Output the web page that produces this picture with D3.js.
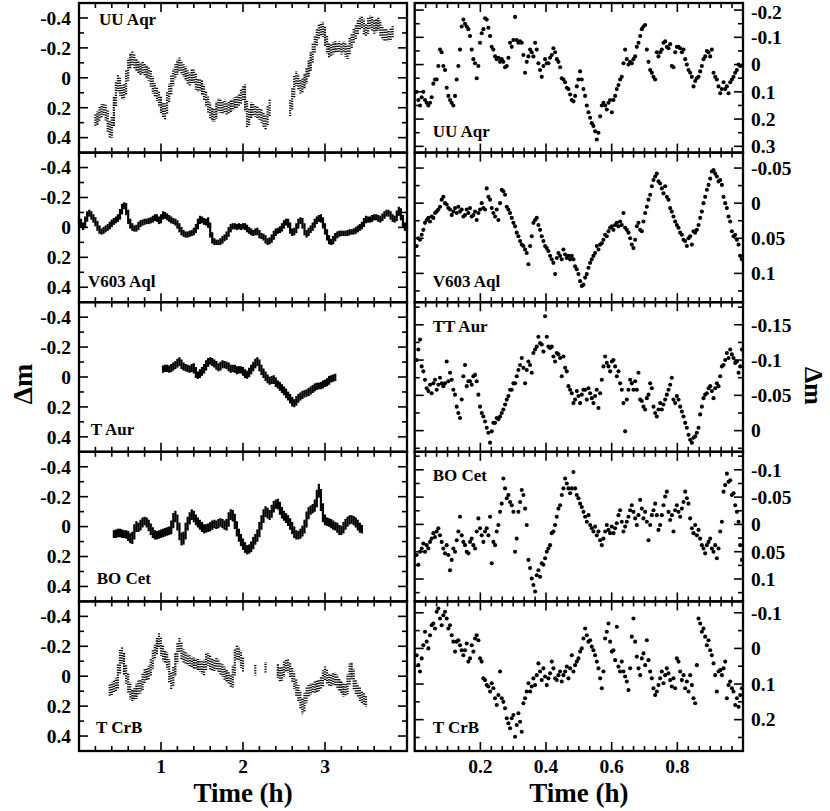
<!DOCTYPE html>
<html>
<head>
<meta charset="utf-8">
<script src="https://cdn.jsdelivr.net/npm/d3@7"></script>
<style>
body { margin: 0; background: #fff; }
svg text { font-family: "Liberation Serif", Tinos, "DejaVu Serif", serif; font-weight: bold; fill: #000; }
</style>
</head>
<body>
<div class="chart"></div>
<script>
// ---- long runs (left column), Δm sampled every 0.025 h, null = no data
const longDt = 0.025
const starNames = ['UU Aqr', 'V603 Aql', 'T Aur', 'BO Cet', 'T CrB']
const shortNames = ['UU Aqr', 'V603 Aql', 'TT Aur', 'BO Cet', 'T CrB']
const longStart = [0.2, 0, 1.025, 0.425, 0.375]
const longSpread = [0.035, 0.018, 0.022, 0.026, 0.035]

const uuAqrLong = [0.29,0.27,0.25,0.21,0.21,0.22,0.28,0.37,0.36,0.22,
  0.10,0.01,0.06,0.11,0.11,0.04,-0.07,-0.12,-0.14,-0.10,
  -0.09,-0.07,-0.05,-0.07,-0.06,-0.04,-0.03,0.00,0.05,0.09,
  0.10,0.14,0.18,0.22,0.25,0.16,0.10,0.05,-0.01,-0.04,
  -0.07,-0.10,-0.06,-0.05,-0.03,0.00,0.02,-0.02,-0.02,0.03,
  0.06,0.04,0.06,0.10,0.14,0.18,0.22,0.25,0.26,0.22,
  0.17,0.19,0.21,0.18,0.21,0.20,0.19,0.18,0.17,0.16,
  0.15,0.13,0.10,0.08,0.30,0.27,0.20,0.21,0.22,0.23,
  0.24,0.25,0.28,0.31,0.26,0.18,
  null,null,null,null,null,null,null,null,null,
  0.22,0.15,0.05,-0.01,0.03,0.07,0.06,0.02,-0.01,-0.06,
  -0.10,-0.17,-0.23,-0.27,-0.31,-0.33,-0.34,-0.28,-0.22,-0.17,
  -0.18,-0.20,-0.21,-0.20,-0.21,-0.19,-0.21,-0.19,-0.16,-0.22,
  -0.25,-0.28,-0.31,-0.34,-0.37,-0.38,-0.34,-0.31,-0.35,-0.38,
  -0.37,-0.33,-0.35,-0.37,-0.33,-0.30,-0.28,-0.29,-0.28,-0.29,-0.31]

const v603AqlLong = [-0.05,-0.03,0.00,-0.03,-0.08,-0.10,-0.08,-0.06,-0.04,-0.01,
  0.02,0.03,0.02,0.01,0.00,-0.01,-0.03,-0.04,-0.05,-0.06,
  -0.08,-0.13,-0.15,-0.14,-0.06,-0.02,0.00,0.01,0.01,-0.01,
  -0.03,-0.03,-0.04,-0.04,-0.04,-0.05,-0.05,-0.07,-0.07,-0.04,
  -0.05,-0.09,-0.08,-0.07,-0.06,-0.05,-0.04,-0.04,-0.02,0.00,
  0.03,0.04,0.05,0.05,0.04,0.04,0.03,0.01,-0.02,-0.06,
  -0.05,-0.04,-0.03,-0.05,0.02,0.08,0.10,0.10,0.10,0.10,
  0.08,0.07,0.06,0.03,0.00,-0.01,-0.01,0.00,-0.01,0.00,
  -0.01,-0.01,0.01,0.02,0.03,0.04,0.03,0.02,0.05,0.06,
  0.06,0.08,0.10,0.09,0.08,0.05,0.03,0.02,0.02,0.00,
  -0.02,-0.04,-0.04,0.01,0.04,0.03,0.01,-0.03,-0.05,-0.04,
  0.02,0.05,0.03,0.01,0.00,-0.03,-0.05,-0.06,-0.07,-0.03,
  0.01,0.05,0.09,0.10,0.09,0.06,0.05,0.04,0.04,0.04,
  0.04,0.04,0.03,0.03,0.03,0.02,0.01,0.00,-0.01,-0.03,
  -0.06,-0.05,-0.05,-0.06,-0.07,-0.07,-0.06,-0.05,-0.07,-0.08,
  -0.10,-0.10,-0.08,-0.06,-0.05,-0.07,-0.12,-0.10,-0.03,0.00,
  0.01]

const tAurLong = [-0.05,-0.06,-0.06,-0.05,-0.06,-0.07,-0.08,-0.09,-0.11,-0.08,
  -0.07,-0.06,-0.06,-0.05,-0.06,-0.07,-0.02,-0.01,-0.02,-0.04,
  -0.05,-0.08,-0.10,-0.11,-0.10,-0.09,-0.08,-0.06,-0.07,-0.09,
  -0.08,-0.08,-0.07,-0.05,-0.06,-0.06,-0.04,-0.05,-0.05,-0.04,
  -0.02,-0.01,-0.03,-0.05,-0.07,-0.09,-0.11,-0.08,-0.04,-0.03,
  0.00,0.01,0.03,0.02,0.01,0.04,0.05,0.06,0.08,0.09,
  0.11,0.13,0.14,0.17,0.18,0.16,0.14,0.13,0.12,0.11,
  0.11,0.10,0.09,0.08,0.07,0.06,0.06,0.06,0.05,0.04,
  0.04,0.02,0.01,0.01,0.00]

const boCetLong = [0.05,0.05,0.04,0.04,0.05,0.05,0.05,0.06,0.08,0.09,
  0.03,-0.01,0.01,-0.01,-0.03,-0.04,-0.03,-0.01,0.02,0.04,
  0.06,0.06,0.05,0.05,0.04,0.04,0.03,0.03,0.02,-0.05,
  -0.08,-0.03,0.03,0.10,0.09,0.03,-0.03,-0.05,-0.09,-0.07,
  -0.04,-0.03,-0.01,0.00,0.02,0.01,0.01,0.00,-0.01,-0.02,
  -0.01,-0.02,-0.03,-0.02,-0.01,0.00,-0.05,-0.09,-0.08,-0.04,
  0.02,0.06,0.09,0.12,0.14,0.16,0.15,0.14,0.11,0.08,
  0.07,0.02,-0.03,-0.07,-0.11,-0.09,-0.07,-0.10,-0.14,-0.15,
  -0.16,-0.12,-0.09,-0.07,-0.06,-0.04,-0.02,0.01,0.04,0.06,
  0.06,0.05,0.03,0.01,-0.05,-0.10,-0.11,-0.12,-0.13,-0.18,
  -0.26,-0.19,-0.07,-0.04,-0.03,-0.03,-0.02,-0.01,0.00,0.00,
  0.03,0.03,0.01,-0.02,-0.03,-0.05,-0.05,-0.04,-0.03,-0.01,
  0.01,0.02]

const tCrBLong = [0.10,0.08,0.07,0.06,0.03,-0.12,-0.16,-0.08,-0.01,0.04,
  0.11,0.13,0.12,0.11,0.06,0.08,0.04,-0.02,-0.01,-0.02,
  -0.05,-0.12,-0.17,-0.18,-0.26,-0.20,-0.14,-0.13,-0.12,-0.04,
  0.05,0.01,-0.08,-0.16,-0.22,-0.16,-0.13,-0.12,-0.11,-0.10,
  -0.09,-0.09,-0.08,-0.08,-0.07,-0.06,-0.04,-0.11,-0.12,-0.09,
  -0.07,-0.07,-0.09,-0.07,-0.05,-0.04,-0.02,0.00,0.01,0.03,
  0.04,-0.12,-0.17,-0.15,-0.12,-0.06,
  null,null,null,null,null,-0.04,null,null,null,null,-0.06,
  null,null,null,null,null,
  -0.05,0.00,-0.01,-0.05,-0.08,-0.08,-0.04,-0.01,0.02,0.08,
  0.11,0.15,0.22,0.18,0.11,0.10,0.08,0.08,0.07,0.07,
  0.06,0.05,0.02,-0.03,0.00,0.03,0.03,0.02,0.01,0.04,
  0.06,0.07,0.10,0.09,0.08,-0.04,-0.06,0.03,0.08,0.09,
  0.12,0.14,0.15,0.17]

// ---- short runs (right column), one point every 0.00508 h from 0.006 h
const shortStart = 0.006
const shortDt = 0.00508

const uuAqrShort = [0.10,0.13,0.15,0.12,0.10,0.13,0.14,0.15,0.14,0.12,
  0.07,0.055,0.055,0.005,-0.055,-0.045,0.005,0.02,0.085,0.115,
  0.13,0.14,0.15,0.115,0.055,0.005,-0.055,-0.14,-0.165,-0.15,
  -0.14,-0.13,-0.105,-0.055,-0.02,-0.005,0.05,0.005,-0.08,-0.115,
  -0.13,-0.17,-0.165,-0.135,-0.105,-0.065,-0.055,-0.03,-0.02,-0.025,
  -0.01,-0.02,-0.01,0.01,0.005,-0.025,-0.08,-0.065,-0.09,-0.175,
  -0.09,-0.08,-0.085,-0.08,-0.035,0.03,-0.01,-0.03,-0.055,-0.045,
  -0.03,-0.08,-0.055,-0.005,0.02,0.045,0.005,-0.02,-0.005,-0.005,
  -0.025,-0.035,-0.06,-0.045,-0.02,-0.01,0.01,0.05,0.055,0.065,
  0.085,0.09,0.11,0.13,0.135,0.115,0.08,0.055,0.025,0.055,
  0.09,0.115,0.15,0.175,0.195,0.215,0.225,0.245,0.275,0.25,
  0.19,0.15,0.14,0.15,0.165,0.14,0.13,0.175,0.13,0.115,
  0.09,0.075,0.055,0.045,-0.005,-0.055,-0.02,0.0,-0.01,-0.005,
  -0.02,-0.03,-0.065,-0.08,-0.105,-0.13,-0.14,-0.145,-0.055,-0.01,
  0.02,0.03,0.045,0.055,-0.045,-0.03,-0.045,-0.055,-0.08,-0.085,
  -0.065,-0.06,-0.075,0.005,0.01,-0.045,-0.065,-0.065,-0.06,-0.045,
  -0.055,-0.02,0.0,0.02,0.03,0.045,0.08,0.06,0.05,0.045,
  0.025,0.005,-0.02,-0.03,-0.05,-0.045,-0.03,-0.055,0.03,0.045,
  0.055,0.08,0.105,0.09,0.065,0.09,0.08,0.105,0.065,0.055,
  0.045,0.03,0.02,0.0,0.005]

const v603AqlShort = [0.061,0.050,0.052,0.045,0.038,0.028,0.024,0.021,0.026,0.019,
  0.021,0.014,0.012,0.009,0.005,-0.005,-0.009,0.000,0.002,0.007,
  0.009,0.017,0.012,0.007,0.014,0.005,0.012,0.009,0.019,0.017,
  0.009,0.014,0.007,0.019,0.017,0.012,0.024,0.014,0.009,0.000,
  0.007,0.009,-0.021,-0.009,-0.005,0.007,0.014,0.019,0.009,0.024,
  0.000,-0.019,-0.017,-0.012,0.005,0.009,0.014,0.021,0.028,0.033,
  0.042,0.047,0.054,0.059,0.061,0.066,0.071,0.087,0.061,0.047,
  0.028,0.024,0.021,0.031,0.038,0.047,0.054,0.061,0.064,0.068,
  0.075,0.080,0.085,0.101,0.078,0.071,0.075,0.080,0.066,0.073,
  0.078,0.075,0.080,0.075,0.080,0.090,0.094,0.101,0.111,0.118,
  0.116,0.106,0.101,0.092,0.085,0.080,0.075,0.071,0.061,0.066,
  0.059,0.057,0.052,0.045,0.047,0.040,0.035,0.033,0.038,0.031,
  0.028,0.033,0.026,0.031,0.014,0.035,0.038,0.042,0.050,0.059,
  0.064,0.052,0.033,0.028,0.038,0.040,0.026,0.014,0.005,-0.005,
  -0.012,-0.024,-0.033,-0.038,-0.042,-0.031,-0.028,-0.021,-0.014,-0.024,
  -0.009,-0.005,0.007,0.012,0.019,0.026,0.031,0.035,0.042,0.045,
  0.052,0.054,0.061,0.050,0.047,0.059,0.040,0.042,0.038,0.031,
  0.021,0.012,0.000,-0.009,-0.019,-0.026,-0.035,-0.045,-0.047,-0.042,
  -0.038,-0.031,-0.033,-0.026,-0.009,0.000,0.007,0.019,0.026,0.040,
  0.047,0.045,0.052,0.059,0.075,0.080]

const ttAurShort = [-0.100,-0.115,-0.129,-0.091,-0.084,-0.072,-0.060,-0.056,-0.065,-0.053,
  -0.067,-0.072,-0.058,-0.065,-0.075,-0.067,-0.063,-0.067,-0.098,-0.070,
  -0.082,-0.072,-0.058,-0.051,-0.034,-0.025,-0.018,-0.044,-0.077,-0.093,
  -0.063,-0.070,-0.070,-0.065,-0.077,-0.079,-0.070,-0.051,-0.034,-0.025,
  -0.020,-0.013,-0.004,0.003,0.017,0.001,-0.011,-0.011,-0.018,-0.016,
  -0.020,-0.025,-0.030,-0.037,-0.044,-0.049,-0.058,-0.058,-0.067,-0.067,
  -0.077,-0.086,-0.093,-0.103,-0.089,-0.067,-0.086,-0.098,-0.093,-0.082,
  -0.110,-0.115,-0.119,-0.133,-0.124,-0.122,-0.112,-0.162,-0.133,-0.119,
  -0.117,-0.119,-0.105,-0.098,-0.110,-0.108,-0.103,-0.077,-0.105,-0.089,
  -0.084,-0.063,-0.058,-0.053,-0.039,-0.044,-0.056,-0.049,-0.039,-0.051,
  -0.058,-0.058,-0.044,-0.060,-0.053,-0.046,-0.039,-0.049,-0.058,-0.032,
  -0.053,-0.072,-0.091,-0.105,-0.096,-0.091,-0.084,-0.098,-0.100,-0.091,
  -0.077,-0.084,-0.067,-0.058,-0.039,0.001,-0.044,-0.058,-0.072,-0.067,
  -0.058,-0.070,-0.058,-0.082,-0.044,-0.042,-0.034,-0.030,-0.046,-0.051,
  -0.067,-0.060,-0.034,-0.025,-0.020,-0.030,-0.039,-0.030,-0.037,-0.044,
  -0.051,-0.058,-0.065,-0.075,-0.044,-0.039,-0.049,-0.044,-0.034,-0.027,
  -0.020,-0.011,-0.004,0.006,0.013,0.017,0.010,0.008,0.003,-0.004,
  -0.023,-0.034,-0.046,-0.051,-0.053,-0.060,-0.063,-0.056,-0.046,-0.060,
  -0.067,-0.063,-0.077,-0.091,-0.093,-0.100,-0.110,-0.103,-0.115,-0.108,
  -0.103,-0.096,-0.098,-0.082,-0.091,-0.115]

const boCetShort = [0.056,0.074,0.050,0.044,0.035,0.050,0.038,0.044,0.032,0.026,
  0.016,0.023,0.013,0.007,0.020,0.032,0.044,0.053,0.038,0.056,
  0.084,0.065,0.044,0.050,0.029,0.013,-0.014,0.020,0.032,0.038,
  0.050,0.053,0.032,0.026,0.038,0.044,0.013,-0.011,0.007,0.020,
  0.032,0.013,0.007,0.020,-0.014,0.071,0.032,0.038,0.013,0.001,
  -0.023,-0.038,-0.084,-0.066,-0.048,-0.054,-0.041,-0.035,-0.023,0.050,
  0.026,-0.023,-0.041,-0.063,-0.054,-0.029,0.001,0.065,0.080,0.099,
  0.111,0.123,0.093,0.084,0.096,0.071,0.074,0.062,0.050,0.044,
  0.038,0.016,0.013,0.001,-0.014,-0.029,-0.035,-0.054,-0.066,-0.084,
  -0.075,-0.066,-0.057,-0.066,-0.096,-0.066,-0.054,-0.048,-0.038,-0.032,
  -0.023,-0.014,-0.005,-0.017,0.001,0.007,0.013,0.004,0.020,0.013,
  0.029,0.038,0.026,0.013,0.001,0.010,0.016,0.004,0.016,0.007,
  -0.002,-0.017,-0.026,-0.005,0.013,0.004,-0.005,-0.014,-0.026,-0.035,
  -0.023,-0.011,0.001,-0.017,-0.045,-0.029,-0.011,-0.023,-0.005,0.029,
  0.001,-0.017,-0.026,-0.038,-0.017,0.010,0.001,-0.017,-0.035,-0.051,
  -0.060,-0.023,-0.008,-0.017,0.013,-0.026,-0.035,-0.023,-0.014,-0.029,
  -0.041,-0.060,-0.048,-0.038,-0.011,0.007,0.016,0.001,0.020,0.010,
  0.026,0.038,0.044,0.053,0.038,0.032,0.026,0.044,0.050,0.038,
  0.062,0.044,0.013,-0.005,-0.060,-0.072,-0.093,-0.078,-0.081,-0.054,
  -0.057,-0.035,-0.023,-0.005,0.038,0.065]

const tCrBShort = [0.019,0.047,0.065,0.028,-0.009,-0.047,-0.019,0.000,-0.037,-0.065,
  -0.070,-0.056,-0.103,-0.112,-0.084,-0.065,-0.093,-0.103,-0.084,-0.056,
  -0.065,-0.037,-0.019,0.009,-0.019,-0.023,-0.009,0.005,0.019,0.005,
  -0.014,0.037,0.028,-0.009,0.009,-0.028,-0.037,-0.023,0.028,0.037,
  0.084,0.089,0.103,0.107,0.121,0.098,0.112,0.140,0.159,0.131,
  0.065,0.140,0.150,0.168,0.196,0.210,0.224,0.196,0.187,0.248,
  0.215,0.182,0.206,0.234,0.154,0.140,0.121,0.098,0.121,0.107,
  0.084,0.103,0.075,0.042,0.065,0.089,0.056,0.079,0.103,0.084,
  0.070,0.037,0.056,0.084,0.089,0.075,0.065,0.093,0.075,0.065,
  0.051,0.084,0.056,0.019,0.065,0.047,0.037,0.028,0.009,0.000,
  -0.028,-0.056,-0.037,-0.019,-0.023,-0.005,0.005,0.019,0.037,0.056,
  0.084,0.112,0.065,-0.028,-0.047,-0.070,-0.019,0.009,0.005,0.033,
  -0.061,0.051,0.065,0.037,0.065,0.079,0.093,0.117,0.056,-0.033,
  -0.084,-0.019,0.023,0.056,0.075,0.028,0.014,0.047,-0.023,0.033,
  0.065,0.084,0.112,0.131,0.121,0.103,0.084,0.065,0.098,0.075,
  0.056,0.070,0.089,0.107,0.084,0.112,0.028,0.037,0.065,0.089,
  0.075,0.112,0.093,0.121,0.075,0.103,0.140,0.154,0.047,-0.084,
  -0.070,-0.047,-0.056,-0.033,-0.009,-0.023,0.005,0.019,0.042,0.075,
  0.121,0.065,0.061,0.075,0.056,0.037,0.140,0.103,0.093,0.112,
  0.121,0.159,0.140,0.164,0.131,0.112]

// ---- axes
const longYDomain = [-0.5, 0.5]
const longYTicks = [-0.4, -0.2, 0, 0.2, 0.4]
const longXTicks = [1, 2, 3]
const shortXTicks = [0.2, 0.4, 0.6, 0.8]
const shortYDomains = [[-0.226, 0.323], [-0.072, 0.141], [-0.182, 0.03], [-0.133, 0.141], [-0.132, 0.288]]
const shortYTicks = [[-0.2, -0.1, 0, 0.1, 0.2, 0.3], [-0.05, 0, 0.05, 0.1], [-0.15, -0.1, -0.05, 0], [-0.1, -0.05, 0, 0.05, 0.1], [-0.1, 0, 0.1, 0.2]]
const shortYMinor = [0.05, 0.025, 0.025, 0.025, 0.05]

const longRuns = [uuAqrLong, v603AqlLong, tAurLong, boCetLong, tCrBLong]
const shortRuns = [uuAqrShort, v603AqlShort, ttAurShort, boCetShort, tCrBShort]

// ---- layout
const width = 830, height = 811
const rowTop = 3, rowH = 149.6
const leftCol = [79, 407], rightCol = [414.7, 743]
const majorLen = 9, minorLen = 5
// speckled look of the sparser runs, solid for the dense ones
const bandDash = ['1.3 1.2', null, null, null, '1.3 1.2']

// label placement [x, baseline offset from row top]
const longLabelPos = [[99, 22], [88, 134], [90.7, 133], [96.7, 132], [96, 132]]
const shortLabelPos = [[432.7, 134], [432.7, 134], [432.7, 30], [432.7, 29], [432.7, 132]]

const svg = d3.select('.chart')
    .append('svg')
    .attr('width', width)
    .attr('height', height)
    .attr('viewBox', [0, 0, width, height])
    .attr('font-family', '"Liberation Serif", Tinos, "DejaVu Serif", serif')

const xLong = d3.scaleLinear().domain([0, 4]).range(leftCol)
const xShort = d3.scaleLinear().domain([0, 1]).range(rightCol)

const fmt = v => String(+v.toFixed(3))

function ticksY(g, y, values, len, x0, x1) {
    values.forEach(v => {
        g.append('line').attr('x1', x0).attr('x2', x0 + len).attr('y1', y(v)).attr('y2', y(v))
        g.append('line').attr('x1', x1).attr('x2', x1 - len).attr('y1', y(v)).attr('y2', y(v))
    })
}

function ticksX(g, x, values, len, y0, y1) {
    values.forEach(v => {
        g.append('line').attr('y1', y0).attr('y2', y0 + len).attr('x1', x(v)).attr('x2', x(v))
        g.append('line').attr('y1', y1).attr('y2', y1 - len).attr('x1', x(v)).attr('x2', x(v))
    })
}

const longXMinor = d3.range(1, 20).map(i => i / 5).filter(v => Math.abs(v - Math.round(v)) > 1e-6)
const shortXMinor = d3.range(1, 30).filter(i => i % 6 !== 0).map(i => i / 30)
const longYMinor = [-0.3, -0.1, 0.1, 0.3]

for (let r = 0; r < 5; r++) {
    const top = rowTop + r * rowH, bottom = top + rowH

    // ----- left panel: long run
    const yL = d3.scaleLinear().domain(longYDomain).range([top, bottom])
    const gL = svg.append('g')
    const vals = longRuns[r], spread = longSpread[r]
    vals.forEach((v, i) => {
        if (v == null) return
        let lo = v, hi = v
        ;[vals[i - 1], vals[i + 1]].forEach(q => {
            if (q == null) return
            lo = Math.min(lo, (v + q) / 2)
            hi = Math.max(hi, (v + q) / 2)
        })
        const x = xLong(longStart[r] + i * longDt)
        gL.append('line')
            .attr('x1', x).attr('x2', x)
            .attr('y1', yL(lo - spread)).attr('y2', yL(hi + spread))
            .attr('stroke', '#000')
            .attr('stroke-width', 2.2)
            .attr('stroke-dasharray', bandDash[r])
            // irregular phase so the dashes do not line up into stripes
            .attr('stroke-dashoffset', bandDash[r] ? (i * i * 0.61) % 2.5 : null)
    })

    const axL = svg.append('g').attr('stroke', '#000').attr('stroke-width', 1.6)
    ticksY(axL, yL, longYTicks, majorLen, leftCol[0], leftCol[1])
    ticksY(axL, yL, longYMinor, minorLen, leftCol[0], leftCol[1])
    ticksX(axL, xLong, longXTicks, majorLen, top, bottom)
    ticksX(axL, xLong, longXMinor, minorLen, top, bottom)
    svg.append('rect')
        .attr('x', leftCol[0]).attr('y', top)
        .attr('width', leftCol[1] - leftCol[0]).attr('height', rowH)
        .attr('fill', 'none').attr('stroke', '#000').attr('stroke-width', 2.3)

    svg.append('g').selectAll('text')
        .data(longYTicks)
        .join('text')
        .attr('x', 71)
        .attr('y', d => Math.max(12, yL(d)))
        .attr('dy', '0.35em')
        .attr('text-anchor', 'end')
        .attr('font-size', 19.5)
        .text(fmt)

    svg.append('text')
        .attr('x', longLabelPos[r][0])
        .attr('y', top + longLabelPos[r][1])
        .attr('font-size', 17)
        .text(starNames[r])

    // ----- right panel: short run
    const yS = d3.scaleLinear().domain(shortYDomains[r]).range([top, bottom])
    svg.append('g').selectAll('circle')
        .data(shortRuns[r])
        .join('circle')
        .attr('cx', (d, i) => xShort(shortStart + i * shortDt))
        .attr('cy', d => yS(d))
        .attr('r', 2.05)
        .attr('fill', '#000')

    const step = shortYMinor[r], dom = shortYDomains[r]
    const minorS = d3.range(Math.ceil(dom[0] / step), Math.floor(dom[1] / step) + 1)
        .map(k => +(k * step).toFixed(4))
        .filter(v => !shortYTicks[r].some(t => Math.abs(t - v) < 1e-6))

    const axS = svg.append('g').attr('stroke', '#000').attr('stroke-width', 1.6)
    ticksY(axS, yS, shortYTicks[r], majorLen, rightCol[0], rightCol[1])
    ticksY(axS, yS, minorS, minorLen, rightCol[0], rightCol[1])
    ticksX(axS, xShort, shortXTicks, majorLen, top, bottom)
    ticksX(axS, xShort, shortXMinor, minorLen, top, bottom)
    svg.append('rect')
        .attr('x', rightCol[0]).attr('y', top)
        .attr('width', rightCol[1] - rightCol[0]).attr('height', rowH)
        .attr('fill', 'none').attr('stroke', '#000').attr('stroke-width', 2.3)

    svg.append('g').selectAll('text')
        .data(shortYTicks[r])
        .join('text')
        .attr('x', 751)
        .attr('y', d => Math.max(12, yS(d)))
        .attr('dy', '0.35em')
        .attr('text-anchor', 'start')
        .attr('font-size', 19.5)
        .text(fmt)

    svg.append('text')
        .attr('x', shortLabelPos[r][0])
        .attr('y', top + shortLabelPos[r][1])
        .attr('font-size', 17)
        .text(shortNames[r])
}

// x tick labels and titles
const baseY = rowTop + 5 * rowH
svg.append('g').selectAll('text')
    .data(longXTicks)
    .join('text')
    .attr('x', d => xLong(d))
    .attr('y', baseY + 22)
    .attr('text-anchor', 'middle')
    .attr('font-size', 19.5)
    .text(fmt)

svg.append('g').selectAll('text')
    .data(shortXTicks)
    .join('text')
    .attr('x', d => xShort(d))
    .attr('y', baseY + 22)
    .attr('text-anchor', 'middle')
    .attr('font-size', 19.5)
    .text(fmt)

svg.append('text')
    .attr('x', xLong(2)).attr('y', 802)
    .attr('text-anchor', 'middle').attr('font-size', 27)
    .text('Time (h)')

svg.append('text')
    .attr('x', xShort(0.5)).attr('y', 802)
    .attr('text-anchor', 'middle').attr('font-size', 27)
    .text('Time (h)')

svg.append('text')
    .attr('transform', 'translate(32,384) rotate(-90)')
    .attr('text-anchor', 'middle').attr('font-size', 28)
    .text('Δm')

svg.append('text')
    .attr('transform', 'translate(805,386) rotate(90)')
    .attr('text-anchor', 'middle').attr('font-size', 26)
    .text('Δm')
</script>
</body>
</html>
